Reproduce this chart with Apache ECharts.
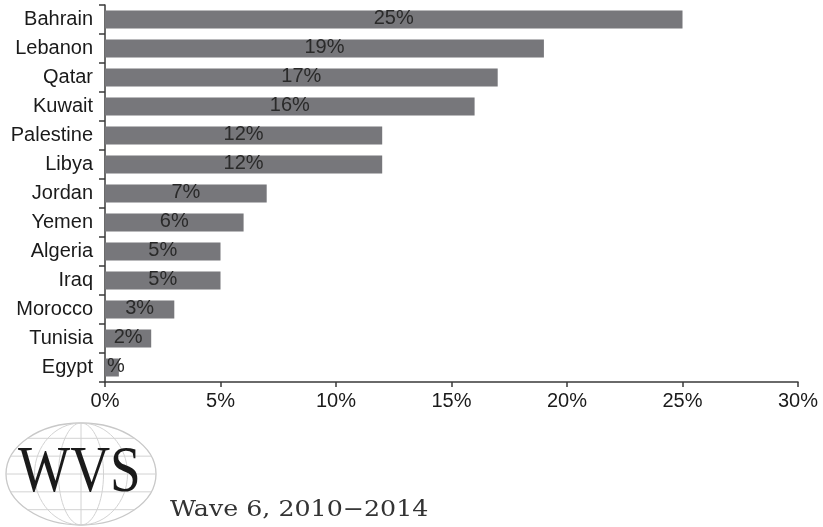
<!DOCTYPE html>
<html>
<head>
<meta charset="utf-8">
<script src="https://cdn.jsdelivr.net/npm/echarts@6/dist/echarts.min.js"></script>
<style>
  html, body { margin: 0; padding: 0; background: #fff; }
  #chart { width: 823px; height: 527px; }
</style>
</head>
<body>
<div id="chart"></div>
<script>
// countries, top to bottom
var countries = ['Bahrain', 'Lebanon', 'Qatar', 'Kuwait', 'Palestine', 'Libya', 'Jordan',
  'Yemen', 'Algeria', 'Iraq', 'Morocco', 'Tunisia', 'Egypt'];
// share in percent
var shares = [25, 19, 17, 16, 12, 12, 7, 6, 5, 5, 3, 2, 0.6];
// labels as printed on the bars
var barLabels = ['25%', '19%', '17%', '16%', '12%', '12%', '7%', '6%', '5%', '5%', '3%', '2%', '%'];

var myChart = echarts.init(document.getElementById('chart'));

var font = 'Liberation Sans, Arial, sans-serif';

// globe behind the logo text
var cx = 81, cy = 474, rx = 75, ry = 51;
var globe = [];
globe.push({ type: 'ellipse', shape: { cx: cx, cy: cy, rx: rx, ry: ry },
  style: { fill: 'none', stroke: '#c8c8c8', lineWidth: 1.3 } });
[0.3, 0.62].forEach(function (f) {
  globe.push({ type: 'ellipse', shape: { cx: cx, cy: cy, rx: rx * f, ry: ry },
    style: { fill: 'none', stroke: '#d2d2d2', lineWidth: 1 } });
});
globe.push({ type: 'line', shape: { x1: cx, y1: cy - ry, x2: cx, y2: cy + ry },
  style: { stroke: '#d2d2d2', lineWidth: 1 } });
[-0.7, -0.35, 0, 0.35, 0.7].forEach(function (f) {
  var y = cy + f * ry;
  var half = rx * Math.sqrt(1 - f * f);
  globe.push({ type: 'line', shape: { x1: cx - half, y1: y, x2: cx + half, y2: y },
    style: { stroke: '#d2d2d2', lineWidth: 1 } });
});
globe.push({ type: 'text', x: 18, y: 474, scaleX: 0.85,
  style: { text: 'WVS', font: '65px "Liberation Serif", "DejaVu Serif", serif', fill: '#1a1a1a',
    verticalAlign: 'middle' } });
globe.push({ type: 'text', x: 170, y: 510, scaleX: 1.15,
  style: { text: 'Wave 6, 2010\u22122014', font: '22px "DejaVu Serif", "Liberation Serif", serif', fill: '#333',
    verticalAlign: 'middle' } });

// tiny bar: label starts at the axis
var barData = shares.map(function (v) {
  return v < 1 ? { value: v, label: { position: 'insideLeft', distance: 2 } } : v;
});

var option = {
  animation: false,
  grid: { left: 105, right: 25, top: 5, bottom: 145 },
  xAxis: {
    type: 'value',
    min: 0,
    max: 30,
    interval: 5,
    splitLine: { show: false },
    axisLine: { show: true, lineStyle: { color: '#3a3a3a', width: 1.5 } },
    axisTick: { show: true, length: 5, lineStyle: { color: '#3a3a3a', width: 1.5 } },
    axisLabel: {
      color: '#1a1a1a', fontSize: 20, fontFamily: font,
      margin: 9,
      formatter: function (val) { return val + '%'; }
    }
  },
  yAxis: {
    type: 'category',
    data: countries,
    inverse: true,
    axisLine: { show: true, lineStyle: { color: '#3a3a3a', width: 1.5 } },
    axisTick: { show: true, length: 6, lineStyle: { color: '#3a3a3a', width: 1.5 } },
    axisLabel: {
      color: '#1a1a1a', fontSize: 20, fontFamily: font,
      margin: 12
    }
  },
  series: [
    {
      type: 'bar',
      data: barData,
      barWidth: 18,
      itemStyle: { color: '#77777b' },
      label: {
        show: true,
        position: 'inside',
        offset: [0, -1],
        color: '#2a2a2a',
        fontSize: 20,
        fontFamily: font,
        formatter: function (p) { return barLabels[p.dataIndex]; }
      }
    }
  ],
  graphic: globe
};

myChart.setOption(option);
</script>
</body>
</html>
